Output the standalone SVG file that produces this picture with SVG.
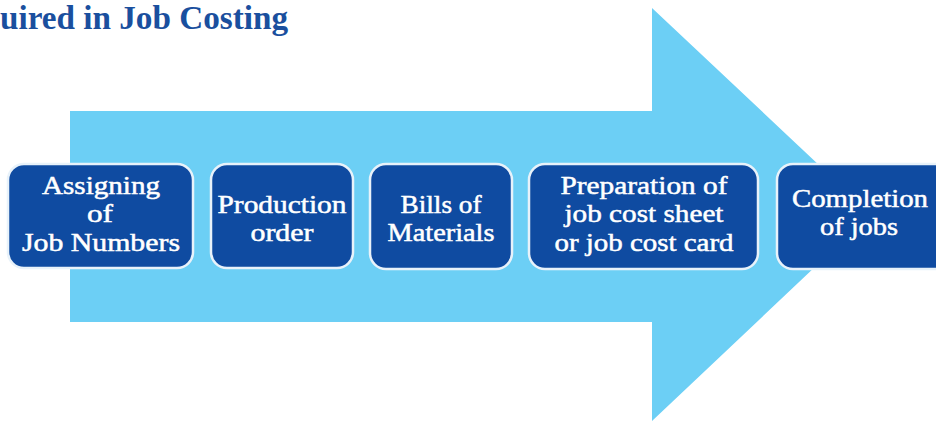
<svg xmlns="http://www.w3.org/2000/svg" width="936" height="422" viewBox="0 0 936 422">
<style>
.box{fill:#0F4BA1;stroke:#E8F2FA;stroke-width:2.5}
.t{font-family:"Liberation Serif",serif;font-size:25px;fill:#FFFFFF;stroke:#FFFFFF;stroke-width:0.5;text-anchor:middle}
.title{font-family:"Liberation Serif",serif;font-size:33px;font-weight:bold;fill:#1A4F9E}
</style>
<rect width="936" height="422" fill="#FFFFFF"/>
<text class="title" x="0" y="29" textLength="288" lengthAdjust="spacingAndGlyphs">uired in Job Costing</text>
<g id="connectors">
<polygon points="70,111 652,111 652,8 871,214 652,421 652,322 70,322" fill="#6CCFF5"/>
</g>
<g id="n1">
<rect class="box" x="8" y="164" width="185" height="104" rx="16"/>
<text class="t" x="101" y="194" textLength="118" lengthAdjust="spacingAndGlyphs">Assigning</text>
<text class="t" x="100" y="222" textLength="26" lengthAdjust="spacingAndGlyphs">of</text>
<text class="t" x="101" y="251" textLength="158" lengthAdjust="spacingAndGlyphs">Job Numbers</text>
</g>
<g id="n2">
<rect class="box" x="211" y="164" width="142" height="104" rx="16"/>
<text class="t" x="282" y="213" textLength="129" lengthAdjust="spacingAndGlyphs">Production</text>
<text class="t" x="282" y="241" textLength="63" lengthAdjust="spacingAndGlyphs">order</text>
</g>
<g id="n3">
<rect class="box" x="370" y="164" width="142" height="105" rx="16"/>
<text class="t" x="441" y="213" textLength="81" lengthAdjust="spacingAndGlyphs">Bills of</text>
<text class="t" x="441" y="241" textLength="107" lengthAdjust="spacingAndGlyphs">Materials</text>
</g>
<g id="n4">
<rect class="box" x="529" y="164" width="229" height="105" rx="16"/>
<text class="t" x="644" y="194" textLength="167" lengthAdjust="spacingAndGlyphs">Preparation of</text>
<text class="t" x="644" y="222" textLength="159" lengthAdjust="spacingAndGlyphs">job cost sheet</text>
<text class="t" x="644" y="251" textLength="179" lengthAdjust="spacingAndGlyphs">or job cost card</text>
</g>
<g id="n5">
<rect class="box" x="777" y="164" width="175" height="105" rx="16"/>
<text class="t" x="860" y="207" textLength="136" lengthAdjust="spacingAndGlyphs">Completion</text>
<text class="t" x="859" y="235" textLength="78" lengthAdjust="spacingAndGlyphs">of jobs</text>
</g>
</svg>
